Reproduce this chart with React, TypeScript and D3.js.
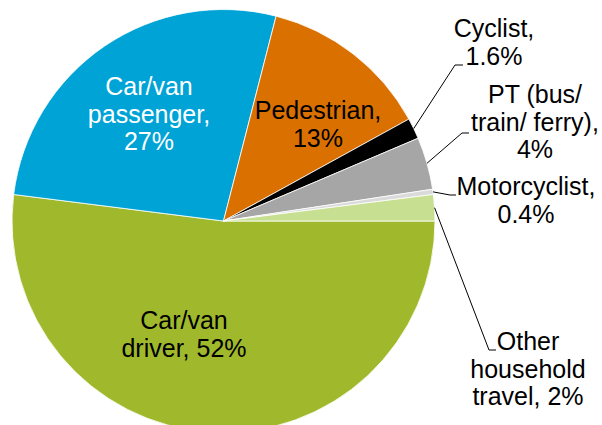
import React from 'react';
import * as d3 from 'd3';

// ---- data ----
const categories = [
  'Car/van driver',
  'Car/van passenger',
  'Pedestrian',
  'Cyclist',
  'PT (bus/ train/ ferry)',
  'Motorcyclist',
  'Other household travel',
];
const values = [52, 27, 13, 1.6, 4, 0.4, 2];
const labelLines = [
  ['Car/van', 'driver, 52%'],
  ['Car/van', 'passenger,', '27%'],
  ['Pedestrian,', '13%'],
  ['Cyclist,', '1.6%'],
  ['PT (bus/', 'train/ ferry),', '4%'],
  ['Motorcyclist,', '0.4%'],
  ['Other', 'household', 'travel, 2%'],
];
const colors = ['#A0B92C', '#00A3D6', '#D97000', '#000000', '#A6A6A6', '#DADADA', '#C6DF91'];
const textColors = ['#000', '#fff', '#000', '#000', '#000', '#000', '#000'];

// ---- layout (label placement, like Excel's manual label positions) ----
const W = 602;
const H = 425;
const cx = 223.5;
const cy = 221;
const R = 211.5;
const FONT = 25;
const LINE_H = 27.5;
// [x center, first baseline]
const labelPos: [number, number][] = [
  [184, 329],
  [149, 95],
  [318, 119],
  [494, 37],
  [535, 103],
  [526, 195],
  [528, 350],
];
// leader line elbow & end for outside labels (null = inside)
const leaders: ([number, number, number] | null)[] = [
  null,
  null,
  null,
  [455, 65, 463],
  [462, 133, 469],
  [450, 195, 456],
  [489, 350, 496],
];

export default function App() {
  const pie = d3
    .pie<number>()
    .sort(null)
    .startAngle(Math.PI / 2)
    .endAngle(Math.PI / 2 + 2 * Math.PI);
  const arcs = pie(values);
  const arc = d3.arc<d3.PieArcDatum<number>>().innerRadius(0).outerRadius(R);

  return (
    <svg
      width={W}
      height={H}
      style={{ position: 'absolute', left: 0, top: 0, background: '#fff' }}
      fontFamily="'Liberation Sans', Arial, sans-serif"
    >
      <g transform={`translate(${cx},${cy})`}>
        {arcs.map((a, i) => (
          <path key={categories[i]} d={arc(a) || ''} fill={colors[i]} stroke="#fff" strokeWidth={0.8} />
        ))}
      </g>
      {arcs.map((a, i) => {
        const l = leaders[i];
        if (!l) return null;
        const mid = (a.startAngle + a.endAngle) / 2;
        const sx = cx + R * Math.sin(mid);
        const sy = cy - R * Math.cos(mid);
        return (
          <polyline
            key={'l' + i}
            points={`${sx},${sy} ${l[0]},${l[1]} ${l[2]},${l[1]}`}
            fill="none"
            stroke="#000"
            strokeWidth={1}
          />
        );
      })}
      {labelLines.map((lines, i) => (
        <text
          key={'t' + i}
          x={labelPos[i][0]}
          y={labelPos[i][1]}
          textAnchor="middle"
          fontSize={FONT}
          fill={textColors[i]}
        >
          {lines.map((ln, j) => (
            <tspan key={j} x={labelPos[i][0]} y={labelPos[i][1] + j * LINE_H}>
              {ln}
            </tspan>
          ))}
        </text>
      ))}
    </svg>
  );
}
